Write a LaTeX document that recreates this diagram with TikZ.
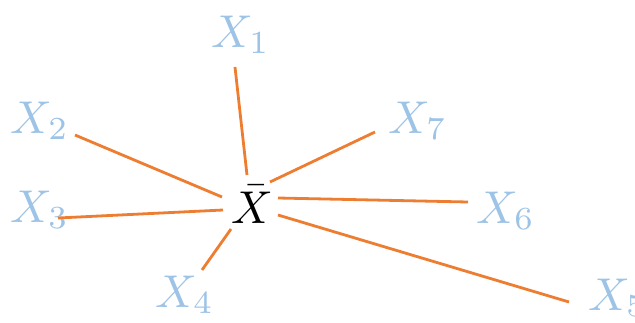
\documentclass[tikz,border=0pt]{standalone}
\usepackage{fontspec}
\definecolor{lblue}{HTML}{9DC3E6}
\definecolor{lorange}{HTML}{ED7D31}
\newcommand{\mylab}[1]{\scalebox{4.6}{$#1$}}
\tikzset{
  lab/.style={inner sep=0pt, anchor=base west, text=lblue},
  ctr/.style={inner sep=0pt, anchor=base west, text=black},
  spoke/.style={draw=lorange, line width=2.8pt}
}
\begin{document}
\begin{tikzpicture}[x=1pt,y=-1pt]
\useasboundingbox (0,0) rectangle (635,322);
\node[ctr] (xb) at (231,223) {\mylab{\bar{X}}};
\node[lab] (x1) at (211,47) {\mylab{X_1}};
\node[lab] (x2) at (10,133) {\mylab{X_2}};
\node[lab] (x3) at (10,222) {\mylab{X_3}};
\node[lab] (x4) at (155,307) {\mylab{X_4}};
\node[lab] (x5) at (588,310) {\mylab{X_5}};
\node[lab] (x6) at (476,223) {\mylab{X_6}};
\node[lab] (x7) at (388,133) {\mylab{X_7}};
% connector ends
\coordinate (a1) at (235,67);  \coordinate (b1) at (247,175);
\coordinate (a2) at (75,135);  \coordinate (b2) at (222,197);
\coordinate (a3) at (58,218);  \coordinate (b3) at (223,210);
\coordinate (a4) at (202,270); \coordinate (b4) at (231,229);
\coordinate (a5) at (569,302); \coordinate (b5) at (278,215);
\coordinate (a6) at (468,202); \coordinate (b6) at (278,198);
\coordinate (a7) at (375,132); \coordinate (b7) at (270,182);
\foreach \i in {1,...,7}{\draw[spoke] (a\i) -- (b\i);}
\end{tikzpicture}
\end{document}
